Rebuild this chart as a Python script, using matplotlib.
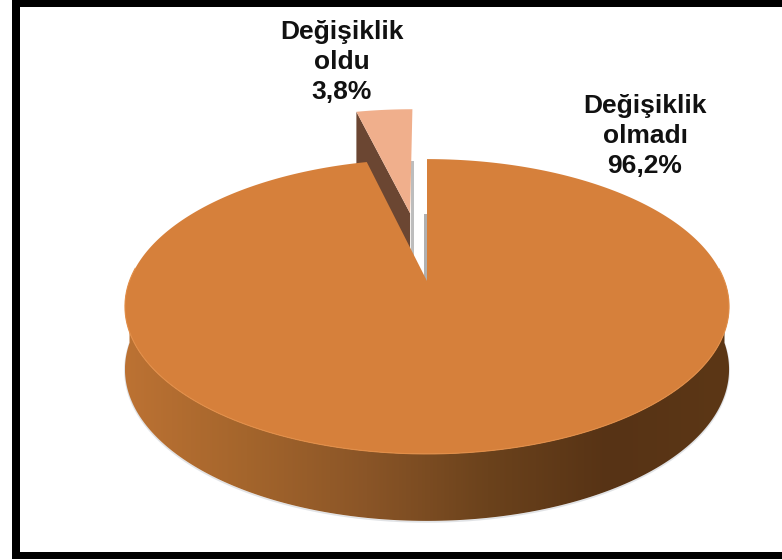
import numpy as np
import matplotlib
matplotlib.use('Agg')
import matplotlib.pyplot as plt
from matplotlib.colors import LinearSegmentedColormap
from matplotlib.patches import Polygon, Rectangle

labels = ['Değişiklik\nolmadı\n96,2%', 'Değişiklik\noldu\n3,8%']
values = [96.2, 3.8]

# pie geometry, in pixels of the 782x560 picture
cx, cy = 427, 281
rx, ry = 297.5, 143
persp = 0.173
explode = 0.52

top_col = '#D6803B'
rim_col = '#E28E48'
small_col = '#F0AF8C'
small_side = '#6B4632'
wall_cols = ['#BC7233', '#A4652C', '#8A5527', '#6B421C', '#573315', '#5C3716']


def project(u, v):
    d = 1 + persp * v
    return cx + rx * u / d, cy - ry * v / d


def depth(v):
    return 62 - 5 * v


def disc(t, off_u=0.0, off_v=0.0):
    # t is clockwise from 12 o'clock
    return np.sin(t) + off_u, np.cos(t) + off_v


small_ang = 2 * np.pi * values[1] / sum(values)

fig = plt.figure(figsize=(7.82, 5.6), dpi=100, facecolor='white')
ax = fig.add_axes([0, 0, 1, 1])
ax.set_xlim(0, 782)
ax.set_ylim(560, 0)
ax.axis('off')

# small slice, exploded
mid = -small_ang / 2
off_u, off_v = explode * np.sin(mid), explode * np.cos(mid)
t = np.linspace(-small_ang, 0, 30)
u, v = disc(t, off_u, off_v)
x, y = project(u, v)
ax0, ay0 = project(off_u, off_v)
d0 = depth(off_v)
side = [(x[0], y[0]), (x[0], y[0] + depth(v[0])), (ax0, ay0 + d0), (ax0, ay0)]
ax.add_patch(Polygon(side, closed=True, fc=small_side, ec='none', zorder=2))
ax.add_patch(Polygon(np.r_[[[ax0, ay0]], np.c_[x, y]], closed=True, fc=small_col, ec='none', zorder=3))

# soft grey shadows either side of the gap
ax.add_patch(Rectangle((ax0 + 0.5, 161), 3.5, ay0 + d0 - 161, fc='#BDBDBD', ec='none', zorder=1))
ax.add_patch(Rectangle((cx - 3, 214), 3, cy - 214, fc='#B0B0B0', ec='none', zorder=1))

# side wall of the big slice with a horizontal gradient
t = np.linspace(np.pi / 2, 3 * np.pi / 2, 200)
u, v = disc(t)
x, y = project(u, v)
yb = y + depth(v)
wall = Polygon(np.r_[np.c_[x, y], np.c_[x, yb][::-1]], closed=True, fc='none', ec='none')
ax.add_patch(wall)
cmap = LinearSegmentedColormap.from_list('wall', wall_cols[::-1])
grad = np.linspace(1, 0, 256).reshape(1, -1)
im = ax.imshow(grad, cmap=cmap, extent=[x.min(), x.max(), yb.max(), y.min()], aspect='auto', zorder=4)
im.set_clip_path(wall)
ax.set_xlim(0, 782)
ax.set_ylim(560, 0)
ax.plot(x, yb + 1, color='#C4C8CE', lw=1.2, alpha=0.5, zorder=3)

# top of the big slice
t = np.linspace(0, 2 * np.pi - small_ang, 400)
u, v = disc(t)
x, y = project(u, v)
ax.add_patch(Polygon(np.r_[[[cx, cy]], np.c_[x, y]], closed=True, fc=top_col, ec='none', zorder=5))
front = v < 0.1
ax.plot(x[front], y[front], color=rim_col, lw=0.8, zorder=6)

txt = dict(ha='center', va='center', family='Liberation Sans', fontweight='bold',
           color='#111111', fontsize=19, linespacing=1.32, zorder=7)
ax.text(645, 136, labels[0], **txt)
ax.text(342, 62, labels[1], **txt)

# black frame, open on the right side
ax.add_patch(Rectangle((12, 0), 8, 559, fc='black', ec='none', zorder=8))
ax.add_patch(Rectangle((12, 0), 770, 7, fc='black', ec='none', zorder=8))
ax.add_patch(Rectangle((12, 552), 770, 7, fc='black', ec='none', zorder=8))

fig.savefig('out.png', dpi=100)
plt.close(fig)
